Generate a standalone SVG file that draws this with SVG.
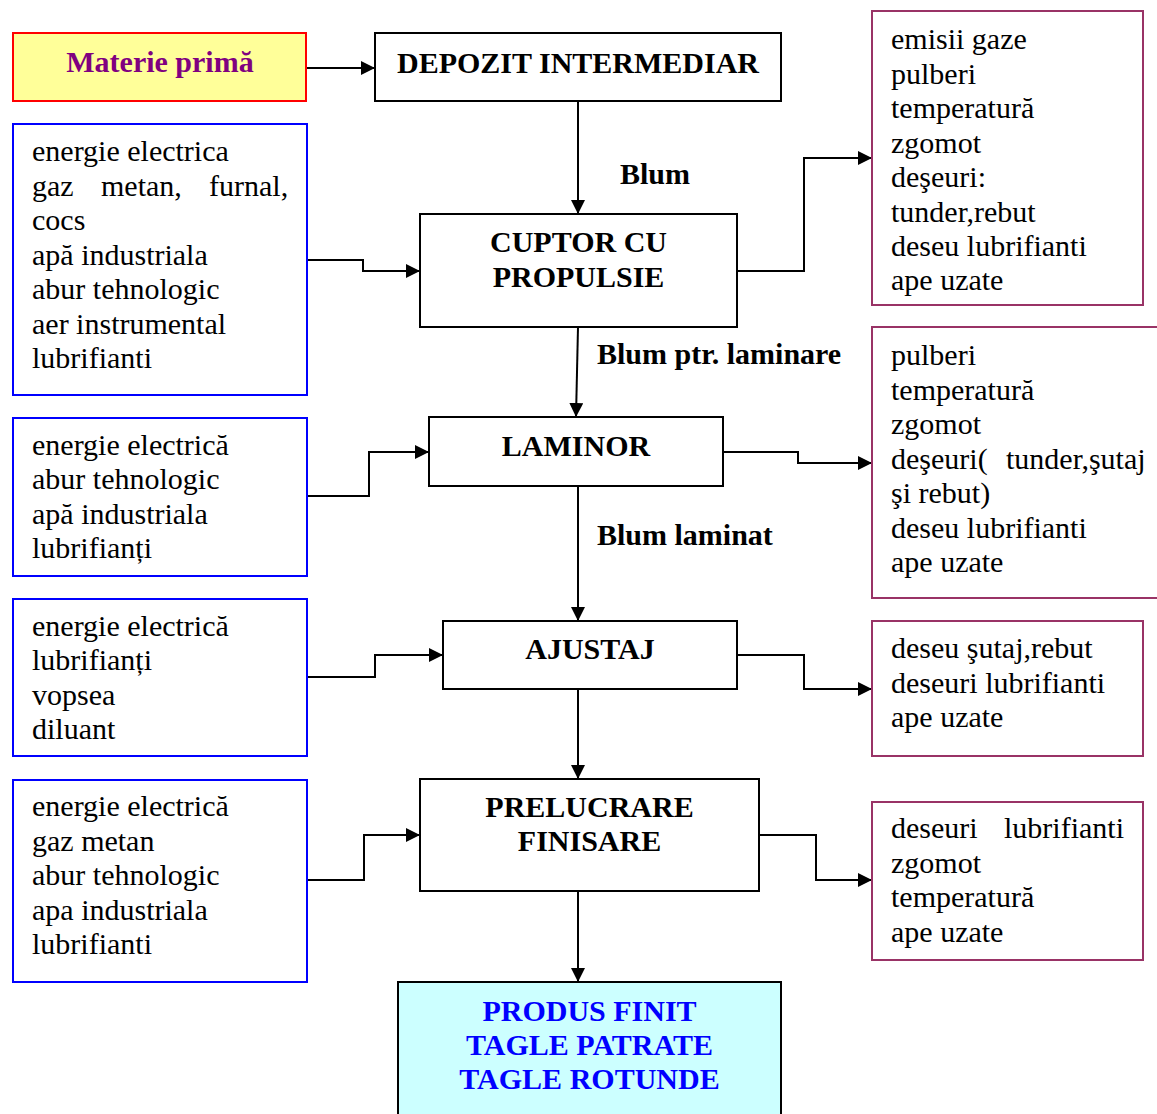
<svg xmlns="http://www.w3.org/2000/svg" width="1157" height="1114" viewBox="0 0 1157 1114">
  <style>
    text { font-family: "Liberation Serif", "Times New Roman", serif; font-size: 30px; fill: #000; }
    .title { font-weight: bold; text-anchor: middle; }
    .lbl { font-weight: bold; }
    .proc { fill: #fff; stroke: #000; stroke-width: 2; }
    .inp { fill: #fff; stroke: #0000ff; stroke-width: 2; }
    .out { fill: #fff; stroke: #993366; stroke-width: 2; }
    .wire { fill: none; stroke: #000; stroke-width: 2; marker-end: url(#arrow); }
  </style>
  <defs>
    <marker id="arrow" markerUnits="userSpaceOnUse" markerWidth="14" markerHeight="14" viewBox="0 0 14 14" refX="14" refY="7" orient="auto">
      <path d="M0,0 L14,7 L0,14 Z" fill="#000"/>
    </marker>
  </defs>
  <rect width="1157" height="1114" fill="#fff"/>

  <!-- connectors -->
  <g id="connectors">
    <path class="wire" d="M306,68 H375"/>
    <path class="wire" d="M578,101 V214"/>
    <path class="wire" d="M578,327 L576,417"/>
    <path class="wire" d="M578,486 V621"/>
    <path class="wire" d="M578,689 V779"/>
    <path class="wire" d="M578,891 V982"/>
    <path class="wire" d="M307,260 H363 V271 H420"/>
    <path class="wire" d="M307,496 H369 V452 H429"/>
    <path class="wire" d="M307,677 H375 V655 H443"/>
    <path class="wire" d="M307,880 H364 V835 H420"/>
    <path class="wire" d="M737,271 H804 V158 H872"/>
    <path class="wire" d="M723,452 H798 V463 H872"/>
    <path class="wire" d="M737,655 H804 V689 H872"/>
    <path class="wire" d="M759,835 H816 V880 H872"/>
  </g>

  <!-- flow labels -->
  <g id="flow-labels">
    <text class="lbl" x="620" y="184">Blum</text>
    <text class="lbl" x="597" y="364">Blum ptr. laminare</text>
    <text class="lbl" x="597" y="545">Blum laminat</text>
  </g>

  <g id="materie-prima">
    <rect x="13" y="33" width="293" height="68" fill="#ffff99" stroke="#ff0000" stroke-width="2"/>
    <text class="title" x="160" y="72" style="fill:#800080">Materie primă</text>
  </g>

  <g id="depozit">
    <rect class="proc" x="375" y="33" width="406" height="68"/>
    <text class="title" x="578" y="73">DEPOZIT INTERMEDIAR</text>
  </g>

  <g id="cuptor">
    <rect class="proc" x="420" y="214" width="317" height="113"/>
    <text class="title" x="578.5" y="252">CUPTOR CU</text>
    <text class="title" x="578.5" y="287">PROPULSIE</text>
  </g>

  <g id="laminor">
    <rect class="proc" x="429" y="417" width="294" height="69"/>
    <text class="title" x="576" y="456">LAMINOR</text>
  </g>

  <g id="ajustaj">
    <rect class="proc" x="443" y="621" width="294" height="68"/>
    <text class="title" x="590" y="659">AJUSTAJ</text>
  </g>

  <g id="prelucrare">
    <rect class="proc" x="420" y="779" width="339" height="112"/>
    <text class="title" x="589.5" y="817">PRELUCRARE</text>
    <text class="title" x="589.5" y="851">FINISARE</text>
  </g>

  <g id="produs-finit">
    <rect x="398" y="982" width="383" height="140" fill="#ccffff" stroke="#000" stroke-width="2"/>
    <text class="title" x="589.5" y="1021" style="fill:#0000ff">PRODUS FINIT</text>
    <text class="title" x="589.5" y="1055" style="fill:#0000ff">TAGLE PATRATE</text>
    <text class="title" x="589.5" y="1089" style="fill:#0000ff">TAGLE ROTUNDE</text>
  </g>

  <!-- inputs -->
  <g id="input-cuptor">
    <rect class="inp" x="13" y="124" width="294" height="271"/>
    <text x="32" y="161">energie electrica</text>
    <text y="196"><tspan x="32">gaz</tspan><tspan x="101">metan,</tspan><tspan x="209">furnal,</tspan></text>
    <text x="32" y="230">cocs</text>
    <text x="32" y="265">apă industriala</text>
    <text x="32" y="299">abur tehnologic</text>
    <text x="32" y="334">aer instrumental</text>
    <text x="32" y="368">lubrifianti</text>
  </g>

  <g id="input-laminor">
    <rect class="inp" x="13" y="418" width="294" height="158"/>
    <text x="32" y="455">energie electrică</text>
    <text x="32" y="489">abur tehnologic</text>
    <text x="32" y="524">apă industriala</text>
    <text x="32" y="558">lubrifianți</text>
  </g>

  <g id="input-ajustaj">
    <rect class="inp" x="13" y="599" width="294" height="157"/>
    <text x="32" y="636">energie electrică</text>
    <text x="32" y="670">lubrifianți</text>
    <text x="32" y="705">vopsea</text>
    <text x="32" y="739">diluant</text>
  </g>

  <g id="input-prelucrare">
    <rect class="inp" x="13" y="780" width="294" height="202"/>
    <text x="32" y="816">energie electrică</text>
    <text x="32" y="851">gaz metan</text>
    <text x="32" y="885">abur tehnologic</text>
    <text x="32" y="920">apa industriala</text>
    <text x="32" y="954">lubrifianti</text>
  </g>

  <!-- outputs -->
  <g id="output-cuptor">
    <rect class="out" x="872" y="11" width="271" height="294"/>
    <text x="891" y="49">emisii gaze</text>
    <text x="891" y="84">pulberi</text>
    <text x="891" y="118">temperatură</text>
    <text x="891" y="153">zgomot</text>
    <text x="891" y="187">deşeuri:</text>
    <text x="891" y="222">tunder,rebut</text>
    <text x="891" y="256">deseu lubrifianti</text>
    <text x="891" y="290">ape uzate</text>
  </g>

  <g id="output-laminor">
    <rect class="out" x="872" y="327" width="290" height="271"/>
    <text x="891" y="365">pulberi</text>
    <text x="891" y="400">temperatură</text>
    <text x="891" y="434">zgomot</text>
    <text y="469"><tspan x="891">deşeuri(</tspan><tspan x="1006">tunder,şutaj</tspan></text>
    <text x="891" y="503">şi rebut)</text>
    <text x="891" y="538">deseu lubrifianti</text>
    <text x="891" y="572">ape uzate</text>
  </g>

  <g id="output-ajustaj">
    <rect class="out" x="872" y="621" width="271" height="135"/>
    <text x="891" y="658">deseu şutaj,rebut</text>
    <text x="891" y="693">deseuri lubrifianti</text>
    <text x="891" y="727">ape uzate</text>
  </g>

  <g id="output-prelucrare">
    <rect class="out" x="872" y="802" width="271" height="158"/>
    <text y="838"><tspan x="891">deseuri</tspan><tspan x="1004">lubrifianti</tspan></text>
    <text x="891" y="873">zgomot</text>
    <text x="891" y="907">temperatură</text>
    <text x="891" y="942">ape uzate</text>
  </g>
</svg>
